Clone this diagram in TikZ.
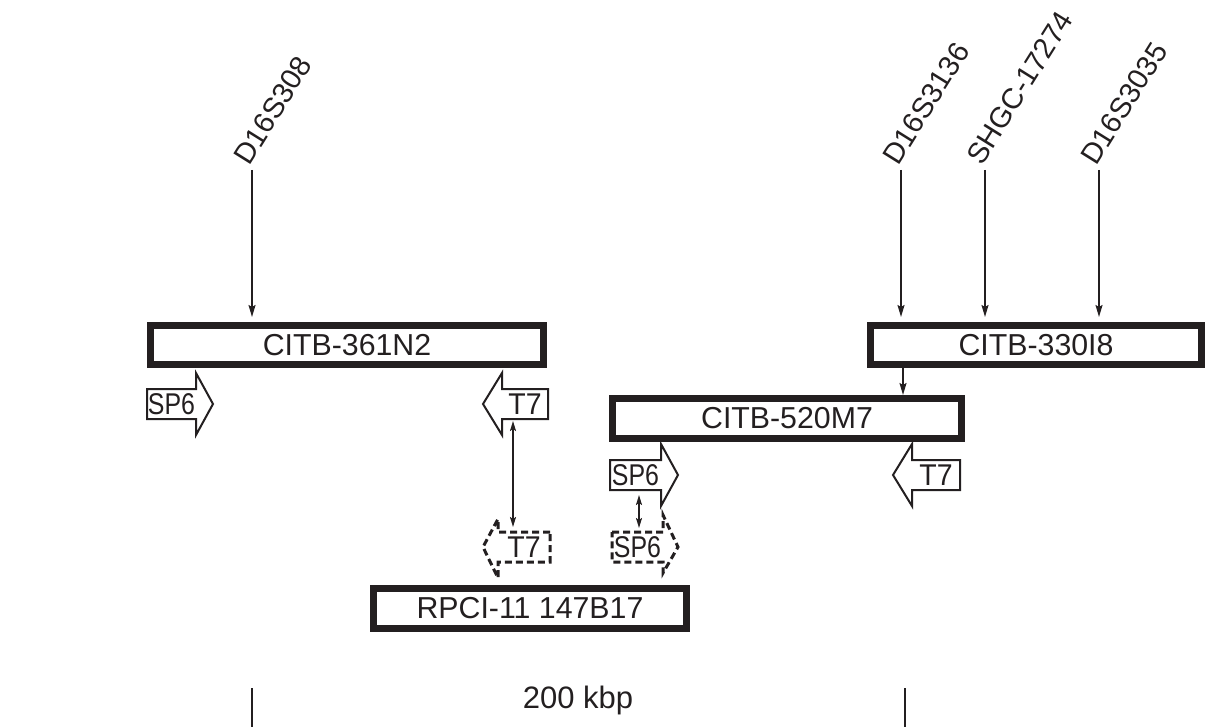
\documentclass[tikz,border=0pt]{standalone}
\usepackage{fontspec}
\setmainfont{Liberation Sans}
\usetikzlibrary{arrows.meta,calc}
\definecolor{ink}{RGB}{35,31,32}
\begin{document}
\begin{tikzpicture}[x=1pt,y=-1pt,
  every node/.style={text=ink},
  clone/.style={draw=ink, line width=7pt, fill=white, inner sep=0pt, outer sep=3.5pt, font=\fontsize{30.3}{31}\selectfont},
  lbl/.style={inner sep=0pt, outer sep=0pt, font=\fontsize{29}{30}\selectfont},
  ptxt/.style={inner sep=0pt, outer sep=0pt, minimum height=30pt, font=\fontsize{30}{31}\selectfont},
  prim/.style={draw=ink, line width=2pt, line join=miter},
  dprim/.style={draw=ink, line width=3pt, dash pattern=on 7pt off 4pt, line join=miter},
  conn/.style={draw=ink, line width=1.6pt, -{Stealth[length=12pt,width=7pt,inset=2pt]}},
  dconn/.style={draw=ink, line width=1.6pt, {Stealth[length=10pt,width=6pt,inset=2pt]}-{Stealth[length=10pt,width=6pt,inset=2pt]}},
  bar/.style={draw=ink, line width=1.8pt},
]
\useasboundingbox (0,0) rectangle (1205,727);

% clones
\node[clone, minimum width=393pt, minimum height=39pt] (b361) at (347,345) {CITB-361N2};
\node[clone, minimum width=331pt, minimum height=39pt] (b330) at (1036,345) {CITB-330I8};
\node[clone, minimum width=349pt, minimum height=40pt] (b520) at (787,418.5) {CITB-520M7};
\node[clone, minimum width=313pt, minimum height=40pt] (rpci) at (530,608.5) {RPCI-11 147B17};

% markers
\coordinate (m0) at (252,170);
\coordinate (m1) at (901,170);
\coordinate (m2) at (985,170);
\coordinate (m3) at (1099,170);
\node[lbl, rotate=58, anchor=base west] (l0) at (249,167) {D16S308};
\node[lbl, rotate=58, anchor=base west] (l1) at (898,167) {D16S3136};
\node[lbl, rotate=58, anchor=base west] (l2) at (982,167) {SHGC-17274};
\node[lbl, rotate=58, anchor=base west] (l3) at (1096,167) {D16S3035};
\draw[conn, shorten >=5pt] (m0) -- (m0 |- b361.north);
\draw[conn, shorten >=5pt] (m1) -- (m1 |- b330.north);
\draw[conn, shorten >=5pt] (m2) -- (m2 |- b330.north);
\draw[conn, shorten >=5pt] (m3) -- (m3 |- b330.north);

% primer arrows (solid)
\node[ptxt, minimum width=49pt] (sp6a) at (171.5,404) {\scalebox{0.83}[1]{SP6}};
\draw[prim] (sp6a.north west) -- (sp6a.north east) -- ++(0,-16) -- ($(sp6a.east)+(17,0)$)
  -- ($(sp6a.south east)+(0,16)$) -- (sp6a.south east) -- (sp6a.south west) -- cycle;
\node[ptxt, minimum width=46pt] (t7a) at (525,404) {\scalebox{0.95}[1]{T7}};
\draw[prim] (t7a.north east) -- (t7a.north west) -- ++(0,-16) -- ($(t7a.west)+(-19,0)$)
  -- ($(t7a.south west)+(0,16)$) -- (t7a.south west) -- (t7a.south east) -- cycle;
\node[ptxt, minimum width=51pt] (sp6b) at (635.5,475) {\scalebox{0.83}[1]{SP6}};
\draw[prim] (sp6b.north west) -- (sp6b.north east) -- ++(0,-16) -- ($(sp6b.east)+(17,0)$)
  -- ($(sp6b.south east)+(0,16)$) -- (sp6b.south east) -- (sp6b.south west) -- cycle;
\node[ptxt, minimum width=48pt] (t7b) at (936,475) {\scalebox{0.95}[1]{T7}};
\draw[prim] (t7b.north east) -- (t7b.north west) -- ++(0,-16) -- ($(t7b.west)+(-19,0)$)
  -- ($(t7b.south west)+(0,16)$) -- (t7b.south west) -- (t7b.south east) -- cycle;

% primer arrows (dashed)
\node[ptxt, minimum width=52pt] (t7c) at (524,547) {\scalebox{0.95}[1]{T7}};
\draw[dprim] (t7c.north east) -- (t7c.north west) -- ++(0,-13) -- ($(t7c.west)+(-15,0)$)
  -- ($(t7c.south west)+(0,16)$) -- (t7c.south west) -- (t7c.south east) -- cycle;
\node[ptxt, minimum width=51pt] (sp6c) at (637.5,547) {\scalebox{0.83}[1]{SP6}};
\draw[dprim] (sp6c.north west) -- (sp6c.north east) -- ++(0,-17) -- ($(sp6c.east)+(15,0)$)
  -- ($(sp6c.south east)+(0,11)$) -- (sp6c.south east) -- (sp6c.south west) -- cycle;

% connectors
\draw[dconn, shorten <=2pt, shorten >=5pt] ([xshift=-12pt]t7a.south) -- ([xshift=-11pt]t7c.north);
\draw[dconn, shorten <=5pt, shorten >=4pt] ([xshift=3.5pt]sp6b.south) -- ([xshift=1.5pt]sp6c.north);
\coordinate (m4) at (903,0);
\draw[conn] (b330.south -| m4) -- (b520.north -| m4);

% scale bar
\coordinate (s0) at (252,688);
\coordinate (s1) at (905,688);
\draw[bar] (s0) -- (252,727);
\draw[bar] (s1) -- (905,727);
\node[lbl, font=\fontsize{31}{32}\selectfont] (scl) at (578,700) {200 kbp};
\end{tikzpicture}
\end{document}
